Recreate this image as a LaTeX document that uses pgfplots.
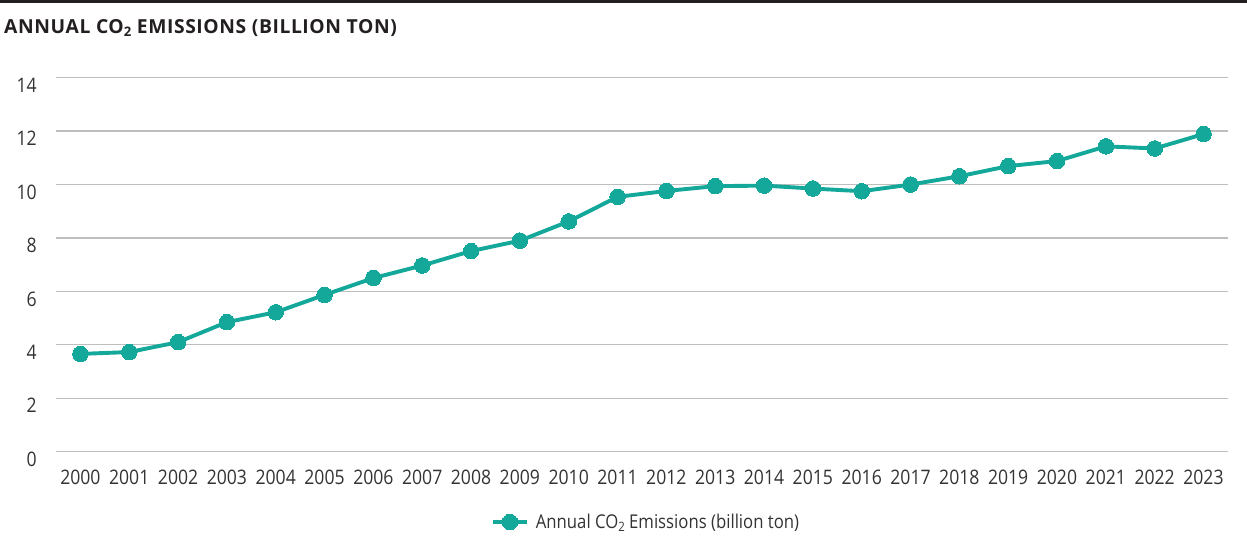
\documentclass[border=0pt]{standalone}
\usepackage{fontspec}
\setmainfont{Open Sans}[FakeStretch=0.88]
\newfontfamily\titlefont{Open Sans}[LetterSpace=3]
\usepackage{pgfplots}
\pgfplotsset{compat=1.18}
\definecolor{teal1}{RGB}{19,168,154}
\definecolor{gridc}{RGB}{190,190,190}
\definecolor{txt}{RGB}{51,51,51}
\definecolor{ttl}{RGB}{35,31,32}
\newcommand{\subtwo}{\raisebox{-0.3ex}{\scalebox{0.68}{2}}}
\begin{document}
\begin{tikzpicture}[x=1pt,y=1pt]
\path[use as bounding box] (0,0) rectangle (1247,537);
\fill[ttl] (0,533.5) rectangle (1247,537);
\node[anchor=base west, inner sep=0, text=ttl, font=\titlefont\fontsize{19.3}{22}\selectfont\bfseries] at (4,503.7) {ANNUAL CO\subtwo{} EMISSIONS (BILLION TON)};
\begin{axis}[
  at={(56pt,85.3pt)}, anchor=south west,
  scale only axis, width=1172pt, height=374pt,
  xmin=1999.5, xmax=2023.5, ymin=0, ymax=14,
  axis line style={draw=none},
  major tick length=0pt,
  xtick={2000,...,2023}, ytick={0,2,...,14},
  xticklabel={\pgfmathprintnumber[1000 sep={}]{\tick}},
  /pgf/number format/assume math mode=true,
  ymajorgrids, grid style={gridc, line width=1.3pt},
  xticklabel style={anchor=north, inner sep=0pt, yshift=-18pt, text=txt, font=\fontsize{20}{24}\selectfont},
  yticklabel style={anchor=north east, inner sep=0pt, xshift=-19pt, text=txt, font=\fontsize{20}{24}\selectfont},
  legend style={at={(0.5026,-0.188)}, anchor=center, draw=none, fill=none, inner sep=0pt,
    font=\fontsize{19}{23}\selectfont, text=txt,
    nodes={inner sep=0pt, text=txt}},
  legend cell align=left,
  legend image code/.code={
    \draw[#1, mark repeat=2, mark phase=2] plot coordinates {(0pt,0pt)(17pt,0pt)(34pt,0pt)};
  },
]
\addplot[teal1, line width=3.9pt, mark=*, mark size=7.8pt, mark options={solid, fill=teal1, draw=teal1, line width=0pt}]
coordinates {
(2000,3.66) (2001,3.73) (2002,4.10) (2003,4.85) (2004,5.22) (2005,5.87)
(2006,6.50) (2007,6.97) (2008,7.51) (2009,7.90) (2010,8.62) (2011,9.54)
(2012,9.76) (2013,9.94) (2014,9.96) (2015,9.85) (2016,9.75) (2017,10.0)
(2018,10.31) (2019,10.69) (2020,10.88) (2021,11.43) (2022,11.35) (2023,11.89)
};
\addlegendentry{\hspace{7pt}Annual CO\subtwo{} Emissions (billion ton)}
\end{axis}
\end{tikzpicture}
\end{document}
